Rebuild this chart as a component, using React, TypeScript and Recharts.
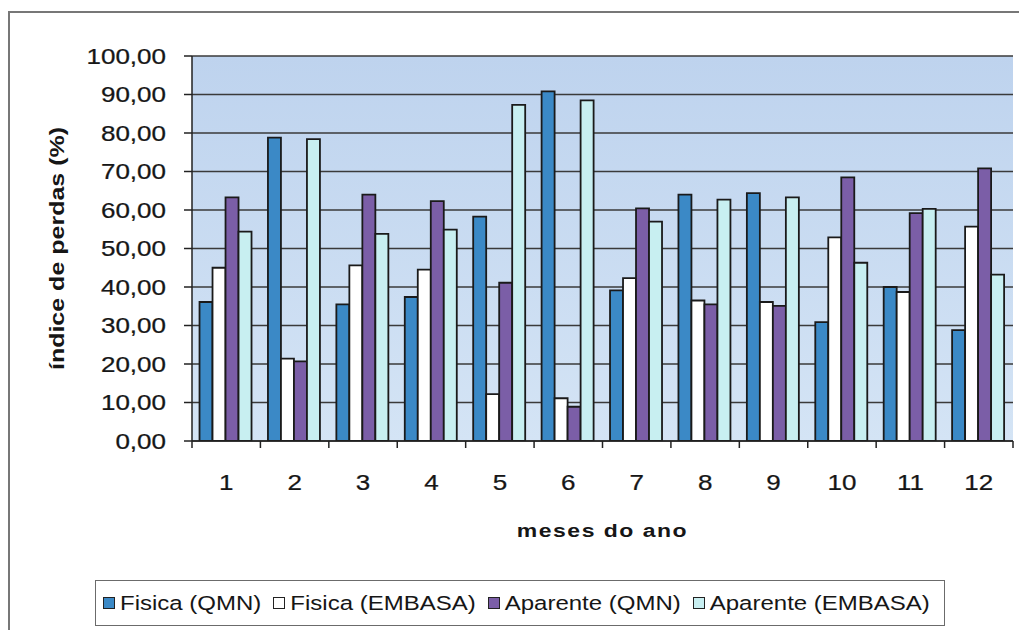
import { BarChart, Bar, XAxis, YAxis, CartesianGrid, Legend } from "recharts";

const months = ["1", "2", "3", "4", "5", "6", "7", "8", "9", "10", "11", "12"];

const fisicaQmn = [36.1, 78.8, 35.5, 37.4, 58.3, 90.8, 39.1, 64.0, 64.4, 30.9, 40.0, 28.8];
const fisicaEmbasa = [45.0, 21.4, 45.6, 44.5, 12.2, 11.1, 42.3, 36.5, 36.1, 52.9, 38.7, 55.7];
const aparenteQmn = [63.3, 20.7, 64.0, 62.3, 41.1, 8.9, 60.4, 35.5, 35.1, 68.5, 59.2, 70.8];
const aparenteEmbasa = [54.4, 78.4, 53.8, 54.9, 87.3, 88.5, 57.0, 62.7, 63.3, 46.3, 60.3, 43.2];

const yTicks = [0, 10, 20, 30, 40, 50, 60, 70, 80, 90, 100];

const seriesNames = ["Fisica (QMN)", "Fisica (EMBASA)", "Aparente (QMN)", "Aparente (EMBASA)"];
const seriesColors = ["#3b89c6", "#ffffff", "#7b5ea7", "#c8eff1"];

const data = months.map((m, i) => ({
  month: m,
  fq: fisicaQmn[i],
  fe: fisicaEmbasa[i],
  aq: aparenteQmn[i],
  ae: aparenteEmbasa[i],
}));

const FONT = "'Liberation Sans', Arial, sans-serif";
const SQUISH = 0.82; // the scanned text is flatter than a normal font
const INK = "#161616";

function YTick(props: any) {
  const { x, y, payload } = props;
  return (
    <text
      transform={`translate(${x},${y}) scale(1,${SQUISH})`}
      textAnchor="end"
      dominantBaseline="central"
      fontSize={26}
      fontFamily={FONT}
      fill={INK}
      stroke={INK}
      strokeWidth={0.3}
    >
      {Number(payload.value).toFixed(2).replace(".", ",")}
    </text>
  );
}

function XTick(props: any) {
  const { x, y, payload, index, visibleTicksCount } = props;
  const half = payload.offset ?? 34.2;
  return (
    <g>
      <line x1={x - half} x2={x - half} y1={y} y2={y + 7} stroke="#222" strokeWidth={1.5} />
      {index === visibleTicksCount - 1 && (
        <line x1={x + half} x2={x + half} y1={y} y2={y + 7} stroke="#222" strokeWidth={1.5} />
      )}
      <text
        transform={`translate(${x},${y + 41}) scale(1,${SQUISH})`}
        textAnchor="middle"
        dominantBaseline="central"
        fontSize={26}
        fontFamily={FONT}
        fill={INK}
        stroke={INK}
        strokeWidth={0.3}
      >
        {payload.value}
      </text>
    </g>
  );
}

function YLabel(props: any) {
  const vb = props.viewBox;
  const cx = vb.x + 57;
  const cy = vb.y + vb.height / 2;
  return (
    <text
      transform={`translate(${cx},${cy}) rotate(-90) scale(1,${SQUISH})`}
      textAnchor="middle"
      dominantBaseline="central"
      fontSize={25}
      fontWeight="bold"
      fontFamily={FONT}
      fill={INK}
    >
      índice de perdas (%)
    </text>
  );
}

function XLabel(props: any) {
  const vb = props.viewBox;
  const cx = vb.x + vb.width / 2;
  const cy = vb.y + 89;
  return (
    <text
      transform={`translate(${cx},${cy}) scale(1,${SQUISH})`}
      textAnchor="middle"
      dominantBaseline="central"
      fontSize={23}
      fontWeight="bold"
      letterSpacing={1.5}
      fontFamily={FONT}
      fill={INK}
    >
      meses do ano
    </text>
  );
}

function LegendBox(props: any) {
  const items = [...(props.payload || [])].sort(
    (a: any, b: any) => seriesNames.indexOf(a.value) - seriesNames.indexOf(b.value)
  );
  return (
    <div
      style={{
        boxSizing: "border-box",
        width: 850,
        height: 46,
        border: "1.5px solid #6b6b6b",
        display: "flex",
        alignItems: "center",
        paddingLeft: 7,
        fontSize: 24,
        fontFamily: FONT,
        color: INK,
        background: "#fff",
      }}
    >
      {items.map((p: any) => (
        <div key={p.value} style={{ display: "flex", alignItems: "center", marginRight: 12 }}>
          <span
            style={{
              display: "inline-block",
              width: 10,
              height: 10,
              border: "1.5px solid #222",
              background: seriesColors[seriesNames.indexOf(p.value)],
              marginRight: 5,
            }}
          />
          <span style={{ display: "inline-block", transform: `scaleY(${SQUISH})`, whiteSpace: "nowrap" }}>
            {p.value}
          </span>
        </div>
      ))}
    </div>
  );
}

export default function App() {
  return (
    <div
      style={{
        position: "absolute",
        left: 0,
        top: 0,
        width: 1019,
        height: 630,
        overflow: "hidden",
        background: "#fff",
      }}
    >
      <div
        style={{
          position: "absolute",
          left: 8,
          top: 11,
          width: 1040,
          height: 650,
          border: "2px solid #777",
        }}
      />
      <div style={{ position: "absolute", left: 0, top: 0 }}>
        <BarChart
          width={1019}
          height={630}
          data={data}
          margin={{ top: 56, right: 6, bottom: 0, left: 0 }}
          barCategoryGap="11%"
          barGap={0}
        >
          <defs>
            <linearGradient id="plotBg" x1="0" y1="0" x2="0" y2="1">
              <stop offset="0%" stopColor="#bed3ee" />
              <stop offset="100%" stopColor="#d4e4f5" />
            </linearGradient>
          </defs>
          <CartesianGrid
            vertical={false}
            stroke="#3a3a3a"
            strokeWidth={1.5}
            fill="url(#plotBg)"
            fillOpacity={1}
          />
          <XAxis
            dataKey="month"
            height={189}
            axisLine={{ stroke: "#222", strokeWidth: 1.5 }}
            tickLine={false}
            tickSize={0}
            tickMargin={0}
            interval={0}
            tick={<XTick />}
            label={(p: any) => <XLabel {...p} />}
          />
          <YAxis
            width={192}
            domain={[0, 100]}
            ticks={yTicks}
            allowDataOverflow
            axisLine={{ stroke: "#222", strokeWidth: 1.5 }}
            tickLine={{ stroke: "#222", strokeWidth: 1.5 }}
            tickSize={8}
            tickMargin={18}
            tick={<YTick />}
            label={(p: any) => <YLabel {...p} />}
          />
          <Legend
            layout="horizontal"
            verticalAlign="middle"
            align="center"
            wrapperStyle={{ left: 95, top: 580, width: 850, height: 46 }}
            content={<LegendBox />}
          />
          <Bar dataKey="fq" name={seriesNames[0]} fill={seriesColors[0]} stroke="#1a1a1a" strokeWidth={1.8} isAnimationActive={false} />
          <Bar dataKey="fe" name={seriesNames[1]} fill={seriesColors[1]} stroke="#1a1a1a" strokeWidth={1.8} isAnimationActive={false} />
          <Bar dataKey="aq" name={seriesNames[2]} fill={seriesColors[2]} stroke="#1a1a1a" strokeWidth={1.8} isAnimationActive={false} />
          <Bar dataKey="ae" name={seriesNames[3]} fill={seriesColors[3]} stroke="#1a1a1a" strokeWidth={1.8} isAnimationActive={false} />
        </BarChart>
      </div>
    </div>
  );
}
